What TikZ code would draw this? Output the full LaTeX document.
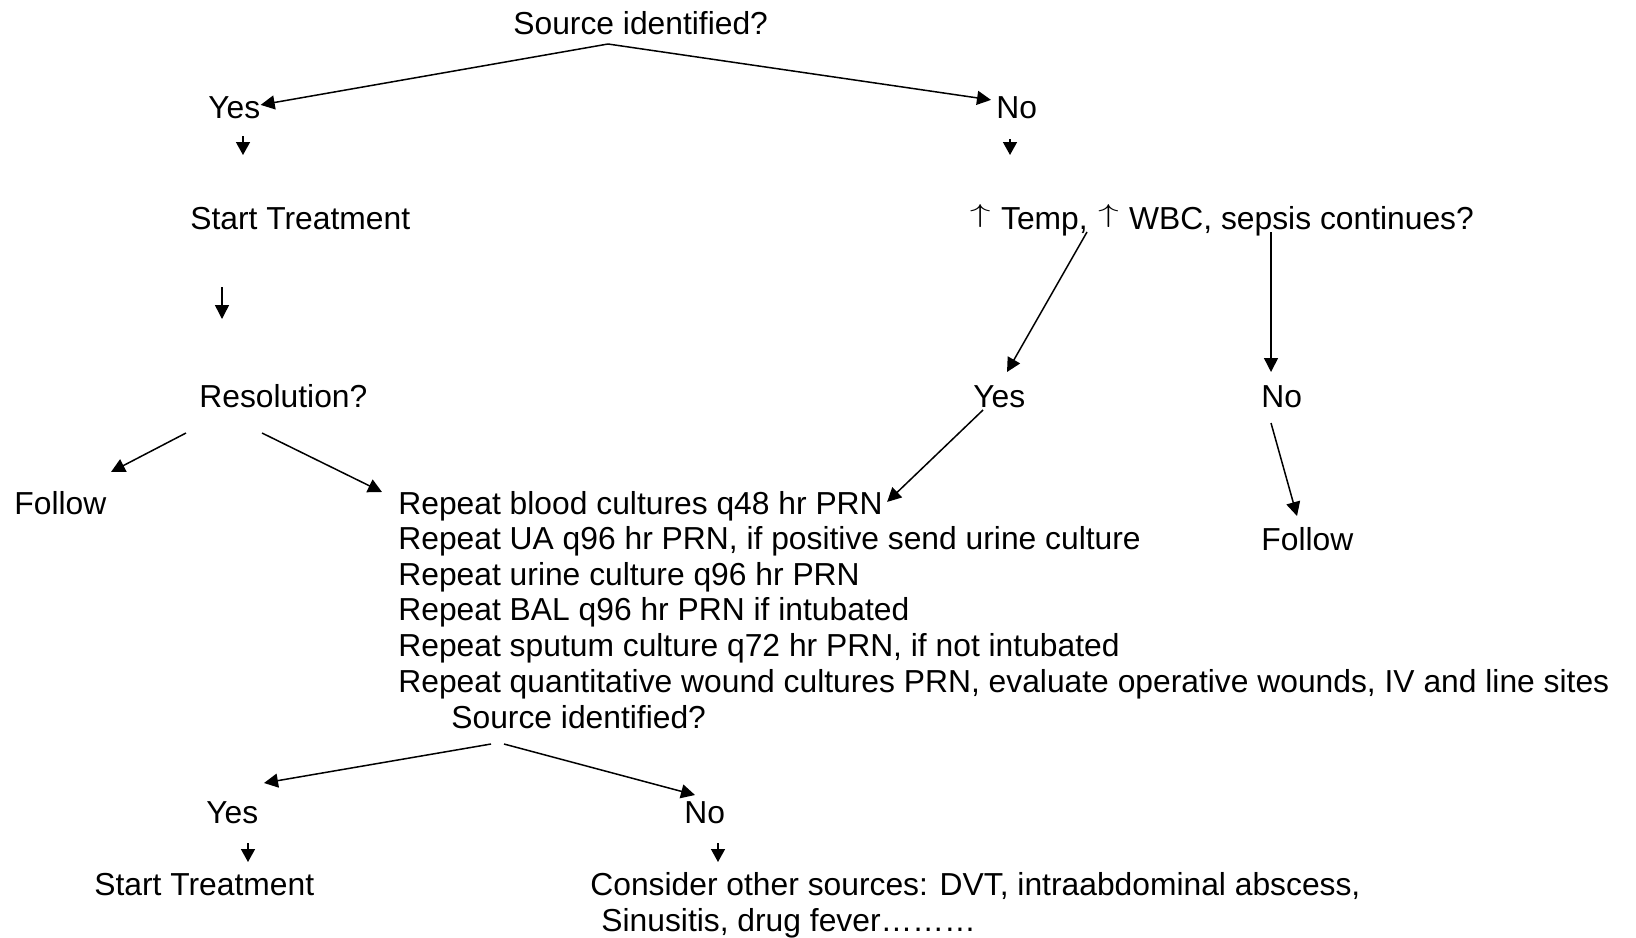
\documentclass[tikz,border=0pt]{standalone}
\usepackage{fontspec}
\setmainfont{Liberation Sans}
\usepackage{graphicx}
\usepackage{tikz}
\usetikzlibrary{arrows.meta}

\newcommand{\upar}{\makebox[0.75em]{\raisebox{0.22em}{\scalebox{1.2}[0.75]{$\uparrow$}}}}

\tikzset{
  lbl/.style={anchor=base west, inner sep=0pt, text height=11.4pt, text depth=3.3pt,
    font=\fontsize{15.9pt}{19pt}\selectfont},
  arr/.style={line width=0.75pt, -{Triangle[length=7pt,width=7pt]}},
  tick/.style={line width=0.75pt, -{Triangle[length=6.5pt,width=7pt]}}
}

\begin{document}
\begin{tikzpicture}[x={(0.5pt,0)}, y={(0,-0.5pt)}]
\useasboundingbox (0,0) rectangle (1636,937);

  % First question (top)
  \node[lbl] (src1) at (513,34) {Source identified?};
  \node[lbl] (yes1) at (208,118) {Yes};
  \node[lbl] (no1) at (996,118) {No};

  % Yes branch
  \node[lbl] (st1) at (190,229) {Start Treatment};
  \node[lbl] (res1) at (199,407) {Resolution?};
  \node[lbl] (follow1) at (14,514) {Follow};

  % No branch
  \node[lbl] (temp) at (968,229) {\upar{} Temp, \upar{} WBC, sepsis continues?};
  \node[lbl] (yes2) at (973,407) {Yes};
  \node[lbl] (no2) at (1261,407) {No};
  \node[lbl] (follow2) at (1261,550) {Follow};

  % Repeat cultures
  \foreach \txt [count=\i from 0] in {
      {Repeat blood cultures q48 hr PRN},
      {Repeat UA q96 hr PRN, if positive send urine culture},
      {Repeat urine culture q96 hr PRN},
      {Repeat BAL q96 hr PRN if intubated},
      {Repeat sputum culture q72 hr PRN, if not intubated},
      {Repeat quantitative wound cultures PRN, evaluate operative wounds, IV and line sites}}
    \node[lbl] (rep\i) at (398,514+35.6*\i) {\txt};

  % Second question (bottom)
  \node[lbl] (src2) at (451,728) {Source identified?};
  \node[lbl] (yes3) at (206,823) {Yes};
  \node[lbl] (no3) at (684,823) {No};
  \node[lbl] (st3) at (94,895) {Start Treatment};
  \node[lbl, align=left] (cons) at (590,931)
    {Consider other sources: DVT, intraabdominal abscess,\\[-1.2pt]
     \hspace*{5.5pt}Sinusitis, drug fever………};

  % connectors
  \draw[arr] ([shift={(95,10)}]src1.base west) -- ([shift={(0,-5)}]yes1.east);
  \draw[arr] ([shift={(95,10)}]src1.base west) -- ([shift={(-5,-10)}]no1.west);
  \draw[tick] ([shift={(35,18)}]yes1.base west) -- ([shift={(35,37)}]yes1.base west);
  \draw[tick] ([shift={(14,21)}]no1.base west) -- ([shift={(14,37)}]no1.base west);
  \draw[arr] ([shift={(32,58)}]st1.base west) -- ([shift={(23,-88)}]res1.base west);
  \draw[arr] ([shift={(119,3)}]temp.base west) -- ([shift={(34,-35)}]yes2.base west);
  \draw[arr] ([shift={(303,3)}]temp.base west) -- ([shift={(10,-35)}]no2.base west);
  \draw[arr] ([shift={(-13,26)}]res1.base west) -- ([shift={(97,-42)}]follow1.base west);
  \draw[arr] ([shift={(63,26)}]res1.base west) -- ([shift={(-16,-22)}]rep0.base west);
  \draw[arr] ([shift={(10,3)}]yes2.base west) -- ([shift={(4,-4)}]rep0.east);
  \draw[arr] ([shift={(10,16)}]no2.base west) -- ([shift={(36,-34)}]follow2.base west);
  \draw[arr] ([shift={(40,16)}]src2.base west) -- ([shift={(58,-40)}]yes3.base west);
  \draw[arr] ([shift={(53,16)}]src2.base west) -- ([shift={(11,-28)}]no3.base west);
  \draw[tick] ([shift={(42,20)}]yes3.base west) -- ([shift={(42,39)}]yes3.base west);
  \draw[tick] ([shift={(34,20)}]no3.base west) -- ([shift={(34,39)}]no3.base west);

\end{tikzpicture}
\end{document}
